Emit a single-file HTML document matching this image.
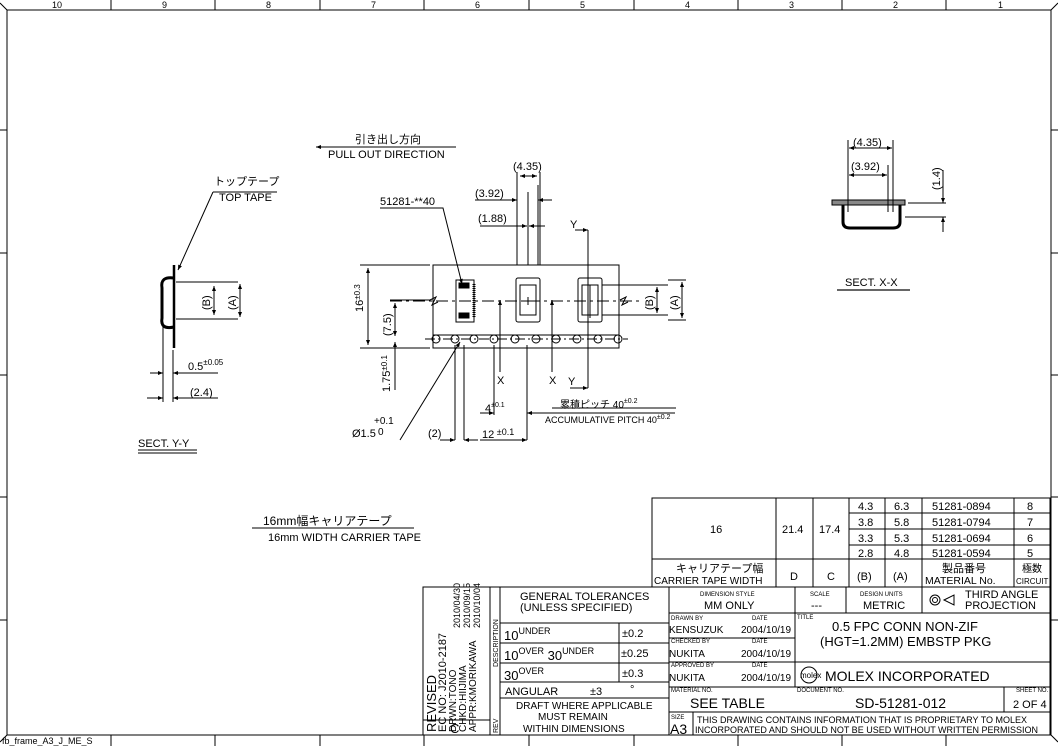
<!DOCTYPE html>
<html><head><meta charset="utf-8"><style>
html,body{margin:0;padding:0;background:#fff;}
svg{display:block;}
text{font-family:"Liberation Sans","Noto Sans CJK JP",sans-serif;fill:#000;}
</style></head><body>
<svg width="1058" height="746" viewBox="0 0 1058 746" xmlns="http://www.w3.org/2000/svg">
<defs>
<marker id="a" viewBox="0 0 10 10" refX="10" refY="5" markerWidth="8" markerHeight="5" orient="auto-start-reverse" markerUnits="userSpaceOnUse"><path d="M0,1 L10,5 L0,9z" fill="#000"/></marker>
</defs>
<g stroke="#000" stroke-width="1" fill="none">
<!-- frame -->
<path d="M0,3 L7,10 L7,735 L0,742 M1058,3 L1051,10 L1051,735 L1058,742"/>
<line x1="7" y1="10" x2="1051" y2="10"/>
<line x1="7" y1="735" x2="1051" y2="735"/>
<path d="M111,0V10 M215,0V10 M320,0V10 M424,0V10 M529,0V10 M634,0V10 M738,0V10 M842,0V10 M946,0V10"/>
<path d="M111,735V746 M215,735V746 M320,735V746 M424,735V746 M529,735V746 M634,735V746 M738,735V746 M842,735V746 M946,735V746"/>
<path d="M0,130H7 M0,253H7 M0,375H7 M0,497H7 M0,620H7 M1051,130H1058 M1051,253H1058 M1051,375H1058 M1051,497H1058 M1051,620H1058"/>

<!-- upper table -->
<rect x="652" y="498" width="398" height="89"/>
<path d="M776,498V587 M813,498V587 M849,498V587 M885,498V587 M922,498V587 M1014,498V587"/>
<path d="M849,513H1050 M849,529H1050 M849,545H1050 M652,559H1050"/>

<!-- lower block -->
<rect x="423" y="587" width="627" height="148"/>
<path d="M490,587V735 M500,587V735 M423,720H490 M500,623H669 M500,643H669 M500,663H669 M500,682H669 M500,698H669 M619,623V682 M669,587V735"/>
<path d="M669,613H1050 M669,638H795 M669,662H1050 M669,687H1050 M669,712H1050 M795,587V687 M846,587V613 M922,587V613 M1004,687V712 M693,712V735"/>

<!-- main tape -->
<rect x="433" y="265" width="186" height="83"/>
<line x1="433" y1="335" x2="619" y2="335"/>
<line x1="425" y1="339" x2="628" y2="339" stroke-dasharray="10,3,2,3"/>
<line x1="390" y1="301" x2="640" y2="301" stroke-dasharray="12,4,3,4"/>
<g>
<circle cx="436" cy="339" r="4"/><circle cx="455" cy="339" r="4"/><circle cx="474" cy="339" r="4"/><circle cx="494" cy="339" r="4"/><circle cx="515" cy="339" r="4"/><circle cx="536" cy="339" r="4"/><circle cx="556" cy="339" r="4"/><circle cx="577" cy="339" r="4"/><circle cx="598" cy="339" r="4"/><circle cx="618" cy="339" r="4"/>
</g>
<path d="M430,300 L436,297 L432,305 L438,302 M620,300 L626,297 L622,305 L628,302"/>
<rect x="456" y="280" width="18" height="42"/>
<rect x="459" y="283" width="10" height="5" fill="#000"/>
<rect x="459" y="313" width="10" height="5" fill="#000"/>
<path d="M474,284V318" stroke-width="3" stroke-dasharray="1,1"/>
<rect x="516" y="278" width="24" height="44" rx="2"/>
<rect x="520" y="285" width="16" height="30"/>
<rect x="578" y="278" width="24" height="44" rx="2"/>
<rect x="582" y="285" width="16" height="30"/>
<path d="M528,297V305 M524,301H532 M590,285V318" />
<path d="M602,285H668 M602,315H668"/>
<path d="M368,268V345" marker-start="url(#a)" marker-end="url(#a)"/>
<path d="M360,265H430 M360,348H430"/>
<path d="M395,303V336" marker-start="url(#a)" marker-end="url(#a)"/>
<path d="M390,300H430"/>
<path d="M395,342V390" marker-start="url(#a)"/>
<path d="M657,287V313" marker-start="url(#a)" marker-end="url(#a)"/>
<path d="M682,282V318" marker-start="url(#a)" marker-end="url(#a)"/>
<path d="M668,280H686 M668,320H686"/>
<path d="M517,172V265 M540,172V265 M528,192V265 M538,185V265"/>
<path d="M520,176H537" marker-start="url(#a)" marker-end="url(#a)"/>
<path d="M475,200H517" marker-end="url(#a)"/><path d="M552,200H538" marker-end="url(#a)"/>
<path d="M480,226H527" marker-end="url(#a)"/><path d="M545,226H529" marker-end="url(#a)"/>
<path d="M575,230H588" marker-end="url(#a)"/><path d="M588,230V388"/>
<path d="M570,388H588" marker-end="url(#a)"/>
<path d="M500,300V372" marker-start="url(#a)"/><path d="M552,300V372" marker-start="url(#a)"/>
<path d="M494,345V415 M527,345V440 M455,345V440 M464,345V440"/>
<path d="M480,413H494" marker-end="url(#a)"/><path d="M545,413H527" marker-end="url(#a)"/>
<path d="M545,413H675"/>
<path d="M440,440H455" marker-end="url(#a)"/><path d="M478,440H464" marker-end="url(#a)"/>
<path d="M480,440H527" marker-end="url(#a)"/>
<path d="M380,208H443 L462,284" marker-end="url(#a)"/>
<path d="M400,440 L460,342" marker-end="url(#a)"/>
<path d="M316,147H456" marker-start="url(#a)"/>
<path d="M552,408H676"/>

<!-- section Y-Y -->
<path d="M174,265V348" stroke-width="2.5"/>
<path d="M174,278 Q160,276 162,288 V318 Q160,330 174,327" stroke-width="3"/>
<path d="M176,282H238 M176,319H238"/>
<path d="M214,286V315" marker-start="url(#a)" marker-end="url(#a)"/>
<path d="M240,284V317" marker-start="url(#a)" marker-end="url(#a)"/>
<path d="M163,322V402 M173,350V402"/>
<path d="M150,373H163" marker-end="url(#a)"/><path d="M186,373H173" marker-end="url(#a)"/><path d="M186,373H218"/>
<path d="M147,398H163" marker-end="url(#a)"/><path d="M186,398H173" marker-end="url(#a)"/><path d="M186,398H218"/>
<path d="M213,192H277 M213,192 L178,270" marker-end="url(#a)"/>
<path d="M138,450H197 M138,453H197"/>

<!-- section X-X -->
<path d="M832,200H905V205H832Z" fill="#888"/>
<path d="M843,205 V222 Q843,228 850,228 H893 Q900,228 900,222 V205" stroke-width="3"/>
<path d="M848,140V212 M893,140V212 M888,165V212"/>
<path d="M849,148H892" marker-start="url(#a)" marker-end="url(#a)"/>
<path d="M849,175H887" marker-start="url(#a)" marker-end="url(#a)"/>
<path d="M908,203H946 M905,217H946 M943,170V203" /><path d="M943,190V203" marker-end="url(#a)"/><path d="M943,232V217" marker-end="url(#a)"/>
<path d="M837,290H910" stroke="#666" stroke-width="2"/>
<path d="M252,528H414"/>
</g>

<g font-size="9">
<text x="52" y="8">10</text><text x="162" y="8">9</text><text x="266" y="8">8</text><text x="371" y="8">7</text><text x="475" y="8">6</text><text x="580" y="8">5</text><text x="685" y="8">4</text><text x="789" y="8">3</text><text x="893" y="8">2</text><text x="998" y="8">1</text>
<text x="2" y="744">fb_frame_A3_J_ME_S</text>
</g>

<g font-size="11">
<text x="355" y="143">引き出し方向</text>
<text x="328" y="158">PULL OUT DIRECTION</text>
<text x="380" y="205">51281-**40</text>
<text x="513" y="170">(4.35)</text>
<text x="475" y="197">(3.92)</text>
<text x="478" y="222">(1.88)</text>
<text x="570" y="228">Y</text>
<text x="568" y="385">Y</text>
<text x="497" y="384">X</text>
<text x="549" y="384">X</text>
<text x="485" y="412">4<tspan font-size="7" dy="-5">±0.1</tspan></text>
<text x="482" y="438">12<tspan font-size="9" dy="-3"> ±0.1</tspan></text>
<text x="428" y="437">(2)</text>
<text x="352" y="437">Ø1.5</text><text x="374" y="424" font-size="10">+0.1</text><text x="378" y="435" font-size="10">0</text>
<text x="560" y="408" font-size="10">累積ピッチ 40<tspan font-size="7" dy="-5">±0.2</tspan></text>
<text x="545" y="423" font-size="9">ACCUMULATIVE PITCH 40<tspan font-size="7" dy="-4">±0.2</tspan></text>
<text transform="translate(363,312) rotate(-90)">16<tspan font-size="8" dy="-3">±0.3</tspan></text>
<text transform="translate(391,336) rotate(-90)">(7.5)</text>
<text transform="translate(390,392) rotate(-90)">1.75<tspan font-size="8" dy="-3">±0.1</tspan></text>
<text transform="translate(653,310) rotate(-90)">(B)</text>
<text transform="translate(678,310) rotate(-90)">(A)</text>
<text x="214" y="185">トップテープ</text>
<text x="219" y="201">TOP TAPE</text>
<text transform="translate(210,310) rotate(-90)">(B)</text>
<text transform="translate(236,310) rotate(-90)">(A)</text>
<text x="188" y="370">0.5<tspan font-size="8" dy="-5">±0.05</tspan></text>
<text x="190" y="396">(2.4)</text>
<text x="138" y="447">SECT. Y-Y</text>
<text x="853" y="146">(4.35)</text>
<text x="851" y="170">(3.92)</text>
<text transform="translate(940,190) rotate(-90)">(1.4)</text>
<text x="845" y="286">SECT. X-X</text>
<text x="263" y="525" font-size="12">16mm幅キャリアテープ</text>
<text x="268" y="541">16mm WIDTH CARRIER TAPE</text>
</g>

<g font-size="11">
<text x="710" y="533">16</text>
<text x="782" y="533">21.4</text>
<text x="819" y="533">17.4</text>
<text x="858" y="510">4.3</text><text x="894" y="510">6.3</text><text x="932" y="510">51281-0894</text><text x="1027" y="510">8</text>
<text x="858" y="526">3.8</text><text x="894" y="526">5.8</text><text x="932" y="526">51281-0794</text><text x="1027" y="526">7</text>
<text x="858" y="542">3.3</text><text x="894" y="542">5.3</text><text x="932" y="542">51281-0694</text><text x="1027" y="542">6</text>
<text x="858" y="557">2.8</text><text x="894" y="557">4.8</text><text x="932" y="557">51281-0594</text><text x="1027" y="557">5</text>
<text x="676" y="572">キャリアテープ幅</text>
<text x="654" y="584" font-size="10">CARRIER TAPE WIDTH</text>
<text x="790" y="580">D</text><text x="827" y="580">C</text><text x="857" y="580">(B)</text><text x="893" y="580">(A)</text>
<text x="942" y="572">製品番号</text><text x="925" y="584" font-size="10.5">MATERIAL No.</text>
<text x="1022" y="572" font-size="10">極数</text><text x="1016" y="584" font-size="8">CIRCUIT</text>
</g>

<g font-size="11">
<g transform="translate(436,732) rotate(-90)"><text x="0" y="0" font-size="13">REVISED</text></g>
<g transform="translate(446,732) rotate(-90)"><text x="0" y="0">EC NO: J2010-2187</text></g>
<g transform="translate(456,732) rotate(-90)"><text x="0" y="0" font-size="10">DRWN:TONO</text></g>
<g transform="translate(466,732) rotate(-90)"><text x="0" y="0" font-size="10">CHKD:HIIJIMA</text></g>
<g transform="translate(476,732) rotate(-90)"><text x="0" y="0" font-size="10">APPR:KMORIKAWA</text></g>
<g transform="translate(460,628) rotate(-90)"><text font-size="9">2010/04/30</text></g>
<g transform="translate(470,628) rotate(-90)"><text font-size="9">2010/09/15</text></g>
<g transform="translate(480,628) rotate(-90)"><text font-size="9">2010/10/04</text></g>
<g transform="translate(498,667) rotate(-90)"><text font-size="7">DESCRIPTION</text></g>
<g transform="translate(498,733) rotate(-90)"><text font-size="7">REV</text></g>
<text x="450" y="733" font-size="13">C</text>
<text x="520" y="600">GENERAL TOLERANCES</text>
<text x="520" y="611">(UNLESS SPECIFIED)</text>
<text x="504" y="640" font-size="13">10<tspan font-size="9" dy="-6">UNDER</tspan></text>
<text x="504" y="660" font-size="13">10<tspan font-size="9" dy="-6">OVER</tspan><tspan dy="6"> 30</tspan><tspan font-size="9" dy="-6">UNDER</tspan></text>
<text x="504" y="680" font-size="13">30<tspan font-size="9" dy="-6">OVER</tspan></text>
<text x="622" y="637">±0.2</text><text x="621" y="657">±0.25</text><text x="622" y="677">±0.3</text>
<text x="505" y="695">ANGULAR</text><text x="590" y="695">±3</text><text x="630" y="693">°</text>
<text x="516" y="709" font-size="10">DRAFT WHERE APPLICABLE</text>
<text x="538" y="720" font-size="10">MUST REMAIN</text>
<text x="523" y="732" font-size="10">WITHIN DIMENSIONS</text>
<text x="700" y="596" font-size="6">DIMENSION STYLE</text>
<text x="704" y="609">MM ONLY</text>
<text x="810" y="596" font-size="6">SCALE</text><text x="811" y="609">---</text>
<text x="860" y="596" font-size="6">DESIGN UNITS</text><text x="863" y="609">METRIC</text>
<circle cx="935" cy="600" r="5" fill="none" stroke="#000"/><circle cx="935" cy="600" r="2.5" fill="none" stroke="#000"/>
<path d="M944,600 L954,595 V605Z" fill="none" stroke="#000"/>
<text x="965" y="598">THIRD ANGLE</text><text x="965" y="609">PROJECTION</text>
<text x="671" y="620" font-size="6">DRAWN BY</text><text x="752" y="620" font-size="6">DATE</text>
<text x="669" y="633" font-size="10">KENSUZUK</text><text x="741" y="633" font-size="10">2004/10/19</text>
<text x="671" y="643" font-size="6">CHECKED BY</text><text x="752" y="643" font-size="6">DATE</text>
<text x="669" y="657" font-size="10">NUKITA</text><text x="741" y="657" font-size="10">2004/10/19</text>
<text x="671" y="667" font-size="6">APPROVED BY</text><text x="752" y="667" font-size="6">DATE</text>
<text x="669" y="681" font-size="10">NUKITA</text><text x="741" y="681" font-size="10">2004/10/19</text>
<text x="797" y="619" font-size="6">TITLE</text>
<text x="832" y="631" font-size="13">0.5 FPC CONN NON-ZIF</text>
<text x="820" y="646" font-size="13">(HGT=1.2MM) EMBSTP PKG</text>
<circle cx="809" cy="675" r="8" fill="none" stroke="#000"/>
<text x="800" y="678" font-size="8">molex</text>
<text x="825" y="681" font-size="14">MOLEX INCORPORATED</text>
<text x="671" y="692" font-size="6">MATERIAL NO.</text>
<text x="690" y="708" font-size="14">SEE TABLE</text>
<text x="797" y="692" font-size="6">DOCUMENT NO.</text>
<text x="855" y="708" font-size="14">SD-51281-012</text>
<text x="1016" y="692" font-size="6">SHEET NO.</text>
<text x="1013" y="708">2 OF 4</text>
<text x="671" y="719" font-size="6">SIZE</text>
<text x="670" y="734" font-size="14">A3</text>
<text x="697" y="723" font-size="9">THIS DRAWING CONTAINS INFORMATION THAT IS PROPRIETARY TO MOLEX</text>
<text x="695" y="733" font-size="9">INCORPORATED AND SHOULD NOT BE USED WITHOUT WRITTEN PERMISSION</text>
</g>
</svg>
</body></html>
